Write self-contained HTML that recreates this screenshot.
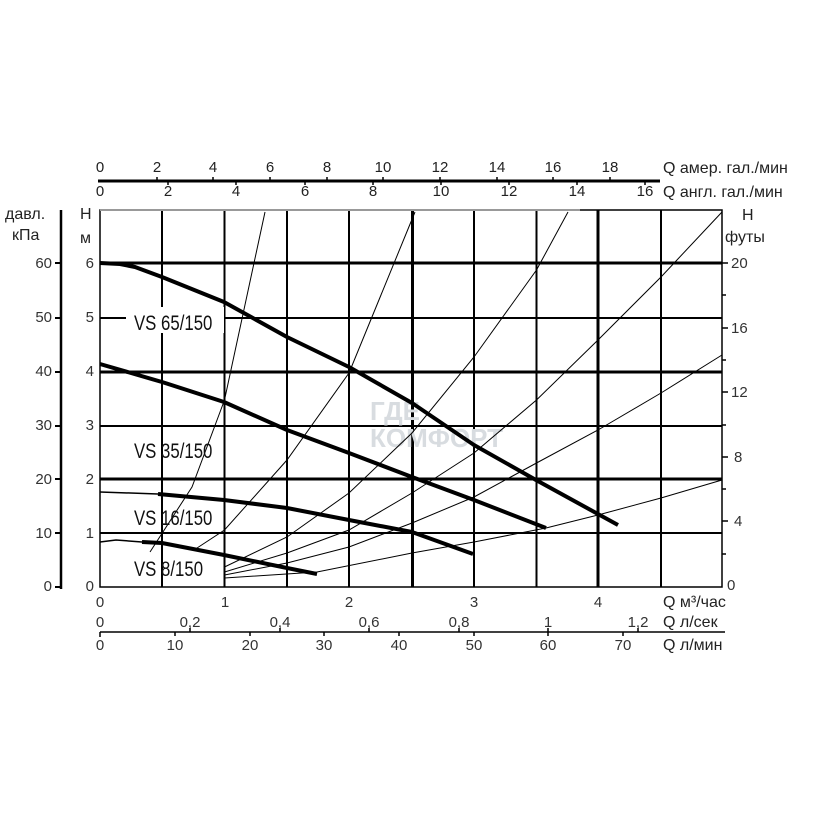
<!DOCTYPE html>
<html><head><meta charset="utf-8"><style>
html,body{margin:0;padding:0;background:#fff;}
svg{display:block;font-family:"Liberation Sans",sans-serif;}
.lab{font-family:"Liberation Sans",sans-serif;font-size:17px;}
</style></head><body>
<svg width="840" height="840" viewBox="0 0 840 840" xmlns="http://www.w3.org/2000/svg">
<rect width="840" height="840" fill="#fff"/>
<!-- top axes -->
<line x1="98" y1="181" x2="660" y2="181" stroke="#000" stroke-width="3"/>
<g font-size="15" fill="#222" text-anchor="middle">
<text x="100" y="172">0</text><text x="157" y="172">2</text><text x="213" y="172">4</text><text x="270" y="172">6</text><text x="327" y="172">8</text><text x="383" y="172">10</text><text x="440" y="172">12</text><text x="497" y="172">14</text><text x="553" y="172">16</text><text x="610" y="172">18</text>
<text x="100" y="196">0</text><text x="168" y="196">2</text><text x="236" y="196">4</text><text x="305" y="196">6</text><text x="373" y="196">8</text><text x="441" y="196">10</text><text x="509" y="196">12</text><text x="577" y="196">14</text><text x="645" y="196">16</text>
</g>
<g stroke="#000" stroke-width="1.5">
<line x1="157" y1="177" x2="157" y2="181"/><line x1="213" y1="177" x2="213" y2="181"/><line x1="270" y1="177" x2="270" y2="181"/><line x1="327" y1="177" x2="327" y2="181"/><line x1="383" y1="177" x2="383" y2="181"/><line x1="440" y1="177" x2="440" y2="181"/><line x1="497" y1="177" x2="497" y2="181"/><line x1="553" y1="177" x2="553" y2="181"/><line x1="610" y1="177" x2="610" y2="181"/>
<line x1="168" y1="181" x2="168" y2="185"/><line x1="236" y1="181" x2="236" y2="185"/><line x1="305" y1="181" x2="305" y2="185"/><line x1="373" y1="181" x2="373" y2="185"/><line x1="441" y1="181" x2="441" y2="185"/><line x1="509" y1="181" x2="509" y2="185"/><line x1="577" y1="181" x2="577" y2="185"/><line x1="645" y1="181" x2="645" y2="185"/>
</g>
<text x="663" y="173" font-size="16" fill="#222">Q  амер. гал./мин</text>
<text x="663" y="197" font-size="16" fill="#222">Q  англ. гал./мин</text>

<!-- grid -->
<g stroke="#000" stroke-width="2">
<line x1="162" y1="210" x2="162" y2="587"/><line x1="224.5" y1="210" x2="224.5" y2="587"/><line x1="287" y1="210" x2="287" y2="587"/><line x1="349" y1="210" x2="349" y2="587"/><line x1="474" y1="210" x2="474" y2="587"/><line x1="536.5" y1="210" x2="536.5" y2="587"/><line x1="661" y1="210" x2="661" y2="587"/>
<line x1="100" y1="318" x2="722" y2="318"/><line x1="100" y1="426" x2="722" y2="426"/><line x1="100" y1="533" x2="722" y2="533"/>
</g>
<g stroke="#000" stroke-width="3">
<line x1="412.5" y1="210" x2="412.5" y2="587"/><line x1="598" y1="210" x2="598" y2="587"/>
<line x1="100" y1="263" x2="722" y2="263"/><line x1="100" y1="372" x2="722" y2="372"/><line x1="100" y1="479" x2="722" y2="479"/>
</g>
<rect x="100" y="210" width="622" height="377" fill="none" stroke="#000" stroke-width="1.5"/>
<line x1="100" y1="210" x2="580" y2="210" stroke="#999" stroke-width="2"/>

<!-- watermark -->
<text x="370" y="420" font-size="26" font-weight="bold" fill="#d8dce0">ГДЕ</text>
<text x="370" y="447" font-size="26" font-weight="bold" fill="#d8dce0">КОМФОРТ</text>

<!-- system curves -->
<g fill="none" stroke="#000" stroke-width="1">
<polyline points="150,552 192,487 224.5,400 265,212"/>
<polyline points="194,550 224.5,530 287,460 349,373 415,212"/>
<polyline points="224.5,567 287,537 349,493 412,433 474,357 536.5,270 568,212"/>
<polyline points="224.5,572 287,553 349,530 412,493 474,453 536.5,400 598,340 661,277 722,212"/>
<polyline points="224.5,575 287,563 349,547 412,523 474,497 536.5,463 598,430 661,393 722,355"/>
<polyline points="224.5,578 317,572 412,553 474,542 546,528 598,515 661,498 722,480"/>
</g>

<!-- pump curves -->
<g fill="none" stroke="#000" stroke-linecap="butt" stroke-linejoin="round">
<polyline stroke-width="4" points="100,263 120,264 135,267 162,277 224,302 287,337 349,367 412,403 474,445 536,480 618,525"/>
<polyline stroke-width="4" points="100,364 162,382 224,402 287,430 349,453 412,477 474,500 546,528"/>
<polyline stroke-width="1.5" points="100,492 158,494"/>
<polyline stroke-width="4" points="158,494 224,500 287,508 349,520 412,532 473,554"/>
<polyline stroke-width="1.5" points="100,542 116,540 142,542"/>
<polyline stroke-width="4" points="142,542 162,543 224,555 287,568 317,574"/>
</g>

<!-- curve labels -->
<g class="lab" fill="#111">
<rect x="126" y="307" width="98" height="26" fill="#fff"/>
<text x="134" y="330" transform="translate(134 0) scale(0.8 1) translate(-134 0)" font-size="21">VS 65/150</text>
<text x="134" y="458" transform="translate(134 0) scale(0.8 1) translate(-134 0)" font-size="21">VS 35/150</text>
<text x="134" y="525" transform="translate(134 0) scale(0.8 1) translate(-134 0)" font-size="21">VS 16/150</text>
<text x="134" y="576" transform="translate(134 0) scale(0.8 1) translate(-134 0)" font-size="21">VS 8/150</text>
</g>

<!-- left kPa axis -->
<line x1="61" y1="210" x2="61" y2="589" stroke="#000" stroke-width="2.5"/>
<text x="5" y="219" font-size="16" fill="#222">давл.</text>
<text x="12" y="240" font-size="16" fill="#222">кПа</text>
<g font-size="15" fill="#333" text-anchor="end">
<text x="52" y="268">60</text><text x="52" y="322">50</text><text x="52" y="376">40</text><text x="52" y="430">30</text><text x="52" y="484">20</text><text x="52" y="538">10</text><text x="52" y="591">0</text>
</g>
<g stroke="#000" stroke-width="2">
<line x1="55" y1="263" x2="61" y2="263"/><line x1="55" y1="318" x2="61" y2="318"/><line x1="55" y1="372" x2="61" y2="372"/><line x1="55" y1="426" x2="61" y2="426"/><line x1="55" y1="479" x2="61" y2="479"/><line x1="55" y1="533" x2="61" y2="533"/><line x1="55" y1="587" x2="61" y2="587"/>
</g>
<!-- m axis -->
<text x="80" y="219" font-size="16" fill="#222">Н</text>
<text x="80" y="243" font-size="16" fill="#222">м</text>
<g font-size="15" fill="#333" text-anchor="end">
<text x="94" y="268">6</text><text x="94" y="322">5</text><text x="94" y="376">4</text><text x="94" y="430">3</text><text x="94" y="484">2</text><text x="94" y="538">1</text><text x="94" y="591">0</text>
</g>
<!-- right feet axis -->
<text x="742" y="220" font-size="16" fill="#222">Н</text>
<text x="725" y="242" font-size="16" fill="#222">футы</text>
<g stroke="#000" stroke-width="1.5">
<line x1="722" y1="263" x2="728" y2="263"/><line x1="722" y1="295" x2="726" y2="295"/><line x1="722" y1="328" x2="728" y2="328"/><line x1="722" y1="360" x2="726" y2="360"/><line x1="722" y1="392" x2="728" y2="392"/><line x1="722" y1="425" x2="726" y2="425"/><line x1="722" y1="457" x2="728" y2="457"/><line x1="722" y1="489" x2="726" y2="489"/><line x1="722" y1="521" x2="728" y2="521"/><line x1="722" y1="554" x2="726" y2="554"/>
</g>
<g font-size="15" fill="#333">
<text x="731" y="268">20</text><text x="731" y="333">16</text><text x="731" y="397">12</text><text x="734" y="462">8</text><text x="734" y="526">4</text><text x="727" y="590">0</text>
</g>

<!-- bottom axes -->
<g font-size="15" fill="#333" text-anchor="middle">
<text x="100" y="607">0</text><text x="225" y="607">1</text><text x="349" y="607">2</text><text x="474" y="607">3</text><text x="598" y="607">4</text>
</g>
<text x="663" y="607" font-size="16" fill="#222">Q  м³/час</text>
<g font-size="15" fill="#333" text-anchor="middle">
<text x="100" y="627">0</text><text x="190" y="627">0,2</text><text x="280" y="627">0,4</text><text x="369" y="627">0,6</text><text x="459" y="627">0,8</text><text x="548" y="627">1</text><text x="638" y="627">1,2</text>
</g>
<text x="663" y="627" font-size="16" fill="#222">Q  л/сек</text>
<line x1="100" y1="632" x2="725" y2="632" stroke="#000" stroke-width="1.5"/>
<g stroke="#000" stroke-width="1.5">
<line x1="190" y1="628" x2="190" y2="632"/><line x1="280" y1="628" x2="280" y2="632"/><line x1="369" y1="628" x2="369" y2="632"/><line x1="459" y1="628" x2="459" y2="632"/><line x1="548" y1="628" x2="548" y2="632"/><line x1="638" y1="628" x2="638" y2="632"/>
<line x1="100" y1="632" x2="100" y2="637"/><line x1="175" y1="632" x2="175" y2="636"/><line x1="250" y1="632" x2="250" y2="636"/><line x1="324" y1="632" x2="324" y2="636"/><line x1="399" y1="632" x2="399" y2="636"/><line x1="474" y1="632" x2="474" y2="636"/><line x1="548" y1="632" x2="548" y2="636"/><line x1="623" y1="632" x2="623" y2="636"/>
</g>
<g font-size="15" fill="#333" text-anchor="middle">
<text x="100" y="650">0</text><text x="175" y="650">10</text><text x="250" y="650">20</text><text x="324" y="650">30</text><text x="399" y="650">40</text><text x="474" y="650">50</text><text x="548" y="650">60</text><text x="623" y="650">70</text>
</g>
<text x="663" y="650" font-size="16" fill="#222">Q  л/мин</text>
</svg>
</body></html>
